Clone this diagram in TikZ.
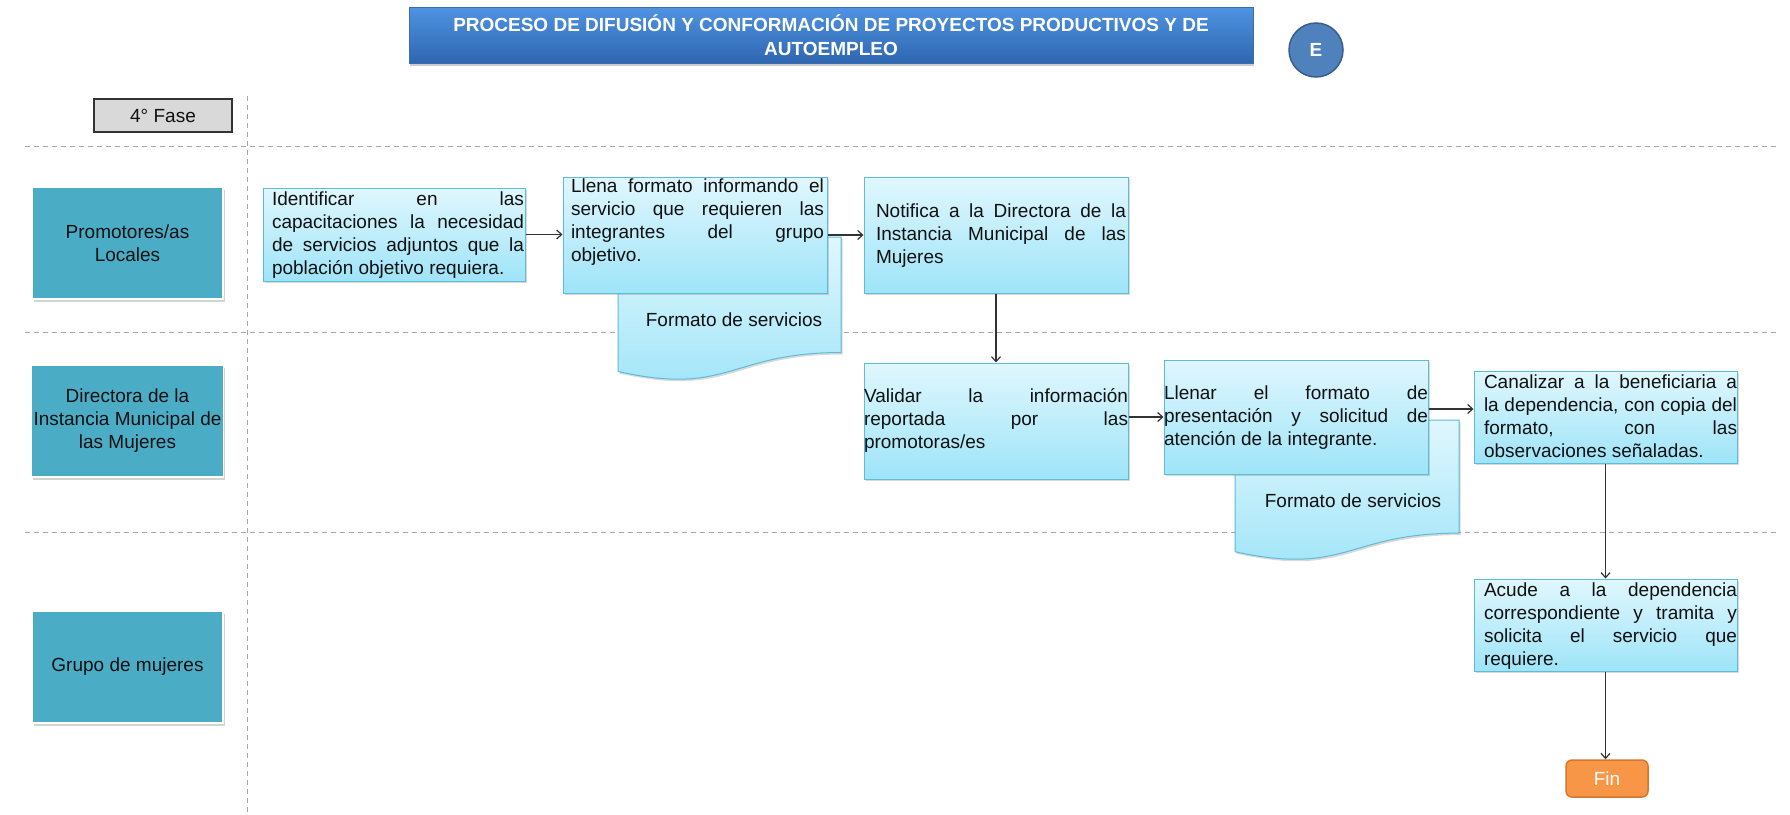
\documentclass[tikz,border=0pt]{standalone}
\usepackage{fontspec}
\setmainfont{Liberation Sans}
\usetikzlibrary{arrows.meta,shadows}
\tolerance=10000
\hbadness=10000
\hyphenpenalty=10000
\definecolor{lane}{HTML}{4BACC6}
\definecolor{ptop}{HTML}{E0F7FE}
\definecolor{pbot}{HTML}{9EE4F8}
\definecolor{pborder}{HTML}{5DBCD8}
\definecolor{ttop}{HTML}{4F93E2}
\definecolor{tbot}{HTML}{2F66B0}
\definecolor{tborder}{HTML}{3B6CB0}
\definecolor{circ}{HTML}{4F81BD}
\definecolor{circb}{HTML}{385D8A}
\definecolor{fase}{HTML}{D9D9D9}
\definecolor{finc}{HTML}{F79646}
\definecolor{finb}{HTML}{D8742E}
\definecolor{sepc}{HTML}{A6A6A6}
\definecolor{arrc}{HTML}{333333}
\definecolor{txt}{HTML}{111111}
\tikzset{
  every node/.style={font=\fontsize{19}{23}\selectfont, text=txt},
  lanebox/.style={draw=white, line width=1.5pt, fill=lane, minimum width=191pt, minimum height=112pt, align=center, inner sep=2pt,
    drop shadow={opacity=0.35, shadow xshift=1.5pt, shadow yshift=-2.5pt}},
  pbox/.style={draw=pborder, line width=1pt, top color=ptop, bottom color=pbot, inner sep=0pt,
    drop shadow={opacity=0.3, shadow xshift=1.5pt, shadow yshift=-2pt}},
  ptext/.style={align=justify, inner sep=0pt},
  docshape/.style={draw=pborder, line width=1pt, top color=ptop, bottom color=pbot,
    drop shadow={opacity=0.3, shadow xshift=1.5pt, shadow yshift=-2pt}},
  arr/.style={draw=arrc, line width=1.2pt, -{Straight Barb[length=5pt,width=9pt]}},
  sepline/.style={draw=sepc, line width=1pt, dash pattern=on 5pt off 4pt},
}
\begin{document}
\begin{tikzpicture}[x=1pt,y=-1pt]
\useasboundingbox (0,0) rectangle (1790,814);
% swimlane separators
\draw[sepline] (25,146) -- (1779,146);
\draw[sepline] (25,332) -- (1779,332);
\draw[sepline] (25,532) -- (1779,532);
\draw[sepline] (247,96) -- (247,814);
% title
\node[draw=tborder, line width=1pt, top color=ttop, bottom color=tbot, minimum width=844pt, minimum height=56pt, align=center,
  text=white, font=\bfseries\fontsize{19}{24}\selectfont,
  drop shadow={opacity=0.4, shadow xshift=1pt, shadow yshift=-3pt}] (title) at (831,35)
  {PROCESO DE DIFUSIÓN Y CONFORMACIÓN DE PROYECTOS PRODUCTIVOS Y DE\\AUTOEMPLEO};
\node[circle, draw=circb, line width=1.5pt, fill=circ, minimum size=54pt, text=white, font=\bfseries\fontsize{19}{23}\selectfont] (e) at (1316,50) {E};
\node[draw=black!80, line width=1.2pt, fill=fase, minimum width=138pt, minimum height=33pt] (fase) at (163,115.5) {4° Fase};
% lanes
\node[lanebox] (l1) at (127.5,243) {Promotores/as\\Locales};
\node[lanebox] (l2) at (127.5,421) {Directora de la\\Instancia Municipal de\\las Mujeres};
\node[lanebox] (l3) at (127.5,667) {Grupo de mujeres};
% documents
\path[docshape] (618,237) -- (841,237) -- (841,352.5) .. controls (729.5,352.5) and (729.5,396.5) .. (618,371.5) -- cycle;
\path[docshape] (1235,420) -- (1459,420) -- (1459,533.1) .. controls (1347,533.1) and (1347,576.2) .. (1235,551.7) -- cycle;
\node (d1) at (734,320) {Formato de servicios};
\node (d2) at (1353,501) {Formato de servicios};
% process boxes
\node[pbox, minimum width=262pt, minimum height=93pt] (b1) at (394,234.5) {};
\node[pbox, minimum width=264pt, minimum height=116pt] (b2) at (695,235) {};
\node[pbox, minimum width=264pt, minimum height=116pt] (b3) at (996,235) {};
\node[pbox, minimum width=264pt, minimum height=116pt] (b4) at (996,421) {};
\node[pbox, minimum width=264pt, minimum height=114pt] (b5) at (1296,417) {};
\node[pbox, minimum width=263pt, minimum height=92pt] (b6) at (1605.5,417) {};
\node[pbox, minimum width=263pt, minimum height=92pt] (b7) at (1605.5,625) {};
\node[rounded corners=6pt, draw=finb, fill=finc, line width=1.5pt, minimum width=82pt, minimum height=37pt, text=white] (fin) at (1607,778.5) {Fin};
% texts
\node[ptext, text width=252pt] (t1) at (398,235) {Identificar en las\linebreak capacitaciones la necesidad\linebreak de servicios adjuntos que la\linebreak población objetivo requiera.};
\node[ptext, text width=253pt] (t2) at (697.5,222.5) {Llena formato informando el\linebreak servicio que requieren las\linebreak integrantes del grupo\linebreak objetivo.};
\node[ptext, text width=250pt] (t3) at (1001,236) {Notifica a la Directora de la\linebreak Instancia Municipal de las\linebreak Mujeres};
\node[ptext, text width=264pt] (t4) at (996,420) {Validar la información\linebreak reportada por las\linebreak promotoras/es};
\node[ptext, text width=264pt] (t5) at (1296,418) {Llenar el formato de\linebreak presentación y solicitud de\linebreak atención de la integrante.};
\node[ptext, text width=253pt] (t6) at (1610.5,416) {Canalizar a la beneficiaria a\linebreak la dependencia, con copia del\linebreak formato, con las\linebreak observaciones señaladas.};
\node[ptext, text width=253pt] (t7) at (1610.5,626) {Acude a la dependencia\linebreak correspondiente y tramita y\linebreak solicita el servicio que\linebreak requiere.};
% connectors
\coordinate (c56) at ([yshift=8pt]b6.west);
\draw[arr] (b1.east) -- (b1.east -| b2.west);
\draw[arr] (b2.east) -- (b3.west);
\draw[arr] (b3.south) -- (b4.north);
\draw[arr] (b5.west -| b4.east) -- (b5.west);
\draw[arr] (c56 -| b5.east) -- (c56);
\draw[arr] (b6.south) -- (b7.north);
\draw[arr] (b7.south) -- (b7.south |- fin.north);
\end{tikzpicture}
\end{document}
